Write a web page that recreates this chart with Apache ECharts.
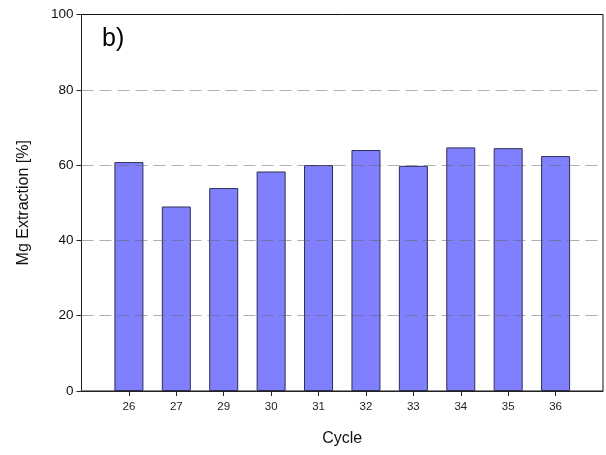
<!DOCTYPE html>
<html>
<head>
<meta charset="utf-8">
<script src="https://cdn.jsdelivr.net/npm/echarts@6/dist/echarts.min.js"></script>
<style>
  html, body { margin: 0; padding: 0; background: #fff; }
  #chart { width: 606px; height: 455px; }
</style>
</head>
<body>
<div id="chart"></div>
<script>
// Mg extraction per cycle
const cycles = ['26', '27', '29', '30', '31', '32', '33', '34', '35', '36'];
const extraction = [60.8, 49.0, 53.9, 58.3, 60.0, 64.0, 59.8, 64.7, 64.5, 62.4];
const gridLevels = [20, 40, 60, 80];

// one empty slot on each side so the bars sit one step in from the frame
const axisCats = [''].concat(cycles, ['']);
const barData = [null].concat(extraction, [null]);

const font = 'Arial, "Liberation Sans", sans-serif';
const chart = echarts.init(document.getElementById('chart'), null, { renderer: 'canvas' });

chart.setOption({
  animation: false,
  backgroundColor: '#ffffff',
  grid: {
    left: 81.5, right: 1, top: 14.5, bottom: 64,
    show: true, borderColor: '#111', borderWidth: 1, backgroundColor: 'transparent'
  },
  graphic: [{
    type: 'text', left: 102, top: 27,
    style: { text: 'b)', font: '25px ' + font, fill: '#000' }
  }],
  xAxis: {
    type: 'category',
    data: axisCats,
    boundaryGap: false,
    name: 'Cycle',
    nameLocation: 'middle',
    nameGap: 40,
    nameTextStyle: { fontFamily: font, fontSize: 16, color: '#111' },
    axisLine: { lineStyle: { color: '#222', width: 1 } },
    axisTick: {
      length: 5, lineStyle: { color: '#222' },
      interval: function (idx) { return idx > 0 && idx < axisCats.length - 1; }
    },
    axisLabel: { interval: 0, margin: 10, fontFamily: font, fontSize: 11.5, color: '#222' },
    splitLine: { show: false }
  },
  yAxis: {
    type: 'value',
    min: 0, max: 100, interval: 20,
    name: 'Mg Extraction [%]',
    nameLocation: 'middle',
    nameGap: 50,
    nameTextStyle: { fontFamily: font, fontSize: 16, color: '#111' },
    axisLine: { show: true, lineStyle: { color: '#222', width: 1 } },
    axisTick: { show: true, length: 5, lineStyle: { color: '#222' } },
    axisLabel: { margin: 8, fontFamily: font, fontSize: 13.5, color: '#111' },
    splitLine: { show: false }
  },
  series: [{
    type: 'bar',
    data: barData,
    barWidth: 29,
    itemStyle: { color: '#8080ff', borderColor: '#2e2e55', borderWidth: 1 },
    markLine: {
      silent: true,
      symbol: 'none',
      label: { show: false },
      lineStyle: { color: 'rgba(95,95,95,0.5)', type: [12, 6], width: 1 },
      data: gridLevels.map(function (v) { return { yAxis: v }; })
    }
  }]
});
</script>
</body>
</html>
